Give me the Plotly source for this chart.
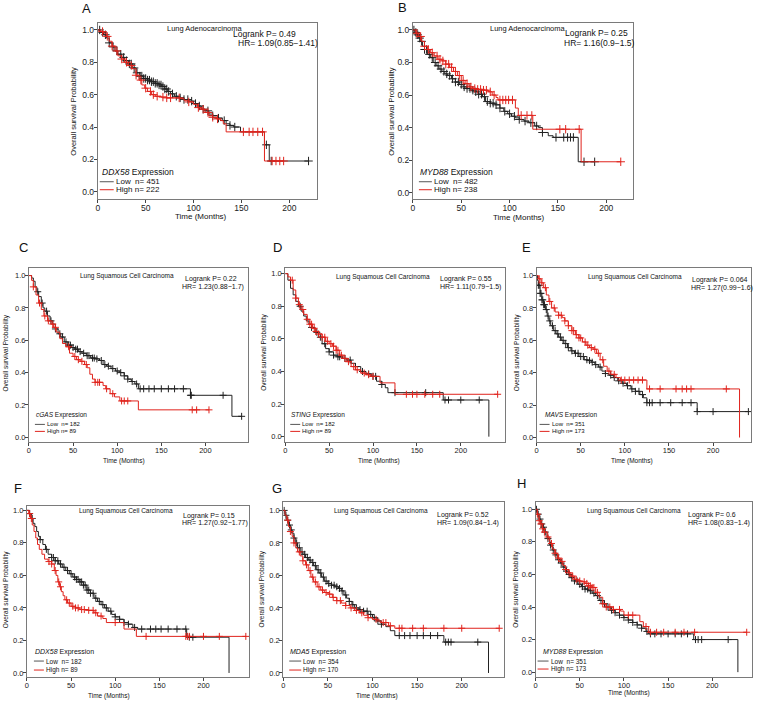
import numpy as np
import plotly.graph_objects as go

W, H = 758, 702
LOW_C = "#222222"
HIGH_C = "#e0231c"

# ---------------- data: (months, survival) steps and censor times ----------------
# A  Lung Adenocarcinoma, DDX58
a_low = [(0, 1.0), (3, 0.985), (6, 0.97), (9, 0.95), (12, 0.92), (15, 0.895), (18, 0.87), (21, 0.85),
         (25, 0.83), (28, 0.81), (32, 0.79), (36, 0.765), (40, 0.735), (44, 0.715), (48, 0.70), (52, 0.69),
         (56, 0.68), (60, 0.67), (64, 0.66), (67, 0.65), (70, 0.635), (73, 0.62), (76, 0.605), (80, 0.59),
         (85, 0.58), (90, 0.57), (95, 0.56), (100, 0.545), (104, 0.53), (108, 0.51), (112, 0.50),
         (116, 0.48), (120, 0.47), (125, 0.455), (130, 0.44), (134, 0.42), (138, 0.41), (142, 0.40),
         (149, 0.37), (174, 0.29), (179, 0.19), (220, 0.19)]
a_low_cens = [2, 5, 8, 12, 16, 20, 24, 27, 30, 33, 35, 38, 41, 44, 46, 48, 50, 52, 54, 56, 58, 60, 62, 64,
              66, 68, 70, 72, 74, 78, 82, 86, 90, 94, 98, 102, 106, 110, 115, 120, 126, 132, 138, 143,
              176, 181, 220]
a_high = [(0, 1.0), (3, 0.99), (6, 0.98), (9, 0.96), (12, 0.93), (15, 0.90), (18, 0.87), (21, 0.84),
          (25, 0.82), (28, 0.80), (32, 0.78), (36, 0.76), (40, 0.72), (43, 0.69), (46, 0.66), (49, 0.64),
          (52, 0.62), (56, 0.60), (60, 0.59), (66, 0.585), (72, 0.58), (86, 0.575), (90, 0.565),
          (95, 0.555), (100, 0.54), (104, 0.52), (108, 0.51), (112, 0.49), (116, 0.47), (120, 0.46),
          (124, 0.45), (128, 0.44), (131, 0.42), (134, 0.37), (174, 0.19), (194, 0.19)]
a_high_cens = [5, 10, 15, 20, 25, 30, 35, 40, 45, 50, 55, 58, 62, 68, 72, 76, 85, 95, 105, 110, 115, 120,
               125, 152, 158, 162, 167, 172, 182, 186, 190, 194]

# B  Lung Adenocarcinoma, MYD88
b_low = [(0, 1.0), (2, 0.985), (4, 0.97), (6, 0.95), (8, 0.93), (10, 0.90), (12, 0.88), (15, 0.85),
         (18, 0.83), (21, 0.80), (24, 0.78), (27, 0.76), (30, 0.745), (33, 0.73), (36, 0.72), (40, 0.70),
         (44, 0.68), (48, 0.665), (52, 0.65), (56, 0.64), (60, 0.63), (64, 0.62), (68, 0.605), (72, 0.59),
         (75, 0.56), (80, 0.55), (85, 0.54), (90, 0.52), (94, 0.50), (98, 0.485), (102, 0.47), (106, 0.46),
         (110, 0.45), (115, 0.44), (120, 0.43), (126, 0.41), (130, 0.40), (134, 0.37), (140, 0.35),
         (145, 0.34), (171, 0.19), (188, 0.19)]
b_low_cens = [1, 3, 5, 7, 9, 12, 14, 17, 20, 23, 26, 29, 32, 35, 38, 41, 44, 47, 50, 53, 56, 59, 62, 65,
              68, 71, 74, 77, 80, 83, 86, 90, 95, 100, 105, 110, 116, 122, 128, 134, 148, 156, 160, 163,
              166, 177, 188]
b_high = [(0, 1.0), (3, 0.98), (6, 0.96), (9, 0.93), (12, 0.90), (15, 0.88), (18, 0.86), (22, 0.84),
          (26, 0.82), (30, 0.81), (34, 0.79), (38, 0.77), (42, 0.745), (46, 0.72), (50, 0.69), (54, 0.67),
          (58, 0.65), (62, 0.64), (66, 0.635), (72, 0.63), (78, 0.62), (82, 0.60), (86, 0.585), (88, 0.57),
          (106, 0.52), (109, 0.475), (124, 0.39), (174, 0.19), (215, 0.19)]
b_high_cens = [4, 8, 12, 16, 20, 25, 28, 31, 34, 37, 40, 44, 48, 52, 56, 60, 64, 67, 70, 73, 76, 80, 84,
               90, 93, 96, 99, 103, 112, 118, 123, 152, 158, 172, 215]

# C  Lung Squamous Cell Carcinoma, cGAS
c_low = [(0, 1.0), (3, 0.985), (5, 0.965), (7, 0.93), (9, 0.90), (11, 0.87), (14, 0.83), (16, 0.80),
         (18, 0.78), (21, 0.75), (24, 0.72), (27, 0.70), (30, 0.67), (33, 0.64), (36, 0.62), (40, 0.59),
         (44, 0.57), (48, 0.555), (52, 0.545), (56, 0.53), (60, 0.52), (65, 0.505), (70, 0.49),
         (75, 0.485), (80, 0.475), (84, 0.45), (88, 0.44), (93, 0.425), (98, 0.41), (103, 0.40),
         (108, 0.38), (112, 0.36), (116, 0.345), (120, 0.33), (124, 0.30), (183, 0.26), (230, 0.13),
         (241, 0.13)]
c_low_cens = [10, 15, 20, 25, 30, 35, 38, 42, 45, 47, 50, 53, 55, 58, 62, 66, 68, 72, 74, 77, 82, 86, 90,
              95, 100, 104, 108, 112, 117, 122, 126, 130, 136, 142, 150, 158, 165, 175, 183, 184, 220, 241]
c_high = [(0, 1.0), (3, 0.97), (5, 0.93), (8, 0.88), (11, 0.83), (14, 0.79), (17, 0.75), (21, 0.72),
          (25, 0.70), (28, 0.68), (31, 0.65), (35, 0.61), (38, 0.58), (42, 0.56), (46, 0.52), (50, 0.50),
          (54, 0.48), (58, 0.47), (63, 0.45), (66, 0.43), (69, 0.39), (72, 0.36), (75, 0.34), (84, 0.32),
          (87, 0.30), (92, 0.27), (97, 0.25), (103, 0.225), (124, 0.17), (204, 0.17)]
c_high_cens = [5, 12, 18, 22, 27, 30, 45, 52, 56, 60, 65, 75, 78, 80, 88, 95, 105, 108, 112, 185, 190, 204]

# D  Lung Squamous Cell Carcinoma, STING
d_low = [(0, 1.0), (3, 0.96), (6, 0.91), (9, 0.87), (12, 0.83), (15, 0.80), (18, 0.77), (21, 0.74),
         (24, 0.71), (27, 0.69), (30, 0.67), (34, 0.64), (38, 0.61), (42, 0.57), (46, 0.54), (50, 0.52),
         (55, 0.50), (60, 0.49), (65, 0.48), (70, 0.47), (75, 0.45), (80, 0.43), (86, 0.40), (92, 0.385),
         (98, 0.37), (104, 0.34), (110, 0.32), (114, 0.30), (117, 0.27), (180, 0.225), (232, 0.0)]
d_low_cens = [17, 30, 36, 40, 45, 50, 55, 60, 62, 68, 74, 80, 88, 95, 100, 103, 110, 125, 160, 182, 186,
              200, 221]
d_high = [(0, 1.0), (3, 0.98), (6, 0.96), (9, 0.90), (12, 0.85), (15, 0.81), (18, 0.78), (21, 0.75),
          (25, 0.72), (28, 0.69), (31, 0.665), (35, 0.645), (38, 0.63), (42, 0.61), (46, 0.585), (50, 0.57),
          (54, 0.555), (58, 0.53), (62, 0.50), (66, 0.48), (70, 0.46), (75, 0.43), (80, 0.41), (86, 0.39),
          (92, 0.38), (97, 0.37), (108, 0.33), (125, 0.26), (242, 0.26)]
d_high_cens = [8, 12, 16, 20, 25, 28, 30, 33, 35, 38, 42, 45, 48, 52, 55, 58, 60, 64, 68, 72, 78, 82, 90,
               95, 100, 138, 145, 150, 159, 168, 176, 242]

# E  Lung Squamous Cell Carcinoma, MAVS
e_low = [(0, 1.0), (1, 0.97), (2, 0.94), (4, 0.89), (6, 0.85), (8, 0.82), (10, 0.79), (12, 0.75),
         (14, 0.72), (16, 0.69), (19, 0.66), (22, 0.64), (25, 0.62), (28, 0.60), (31, 0.58), (35, 0.555),
         (39, 0.535), (43, 0.52), (48, 0.50), (54, 0.48), (58, 0.475), (62, 0.465), (66, 0.45), (70, 0.435),
         (74, 0.41), (78, 0.395), (82, 0.385), (87, 0.37), (92, 0.35), (97, 0.335), (102, 0.32),
         (107, 0.30), (112, 0.285), (117, 0.265), (121, 0.245), (125, 0.215), (182, 0.16), (240, 0.16)]
e_low_cens = [2, 3, 4, 5, 6, 7, 8, 9, 11, 13, 15, 18, 21, 24, 27, 30, 33, 36, 40, 44, 47, 50, 53, 57, 60,
              63, 67, 72, 78, 84, 88, 93, 98, 103, 108, 112, 116, 120, 125, 128, 131, 140, 152, 165, 175,
              182, 200, 240]
e_high = [(0, 1.0), (2, 0.98), (5, 0.955), (8, 0.925), (11, 0.88), (14, 0.84), (17, 0.80), (21, 0.775),
          (25, 0.755), (29, 0.74), (32, 0.72), (36, 0.69), (40, 0.66), (44, 0.635), (48, 0.615), (52, 0.59),
          (56, 0.57), (60, 0.555), (64, 0.545), (68, 0.52), (72, 0.48), (76, 0.44), (80, 0.41), (84, 0.39),
          (90, 0.37), (95, 0.355), (125, 0.30), (230, 0.0)]
e_high_cens = [3, 6, 10, 15, 20, 25, 28, 32, 36, 40, 42, 45, 48, 50, 55, 58, 62, 66, 70, 75, 82, 88, 96,
               100, 105, 110, 115, 120, 128, 140, 158, 165, 170, 175, 215]

# F  Lung Squamous Cell Carcinoma, DDX58
f_low = [(0, 1.0), (3, 0.98), (5, 0.95), (7, 0.92), (9, 0.90), (11, 0.87), (13, 0.84), (15, 0.82),
         (18, 0.79), (21, 0.76), (24, 0.73), (28, 0.71), (32, 0.69), (36, 0.67), (40, 0.65), (44, 0.63),
         (48, 0.61), (52, 0.59), (56, 0.575), (60, 0.56), (64, 0.54), (68, 0.51), (72, 0.49), (76, 0.46),
         (80, 0.44), (84, 0.42), (88, 0.40), (92, 0.38), (96, 0.36), (100, 0.345), (105, 0.33),
         (110, 0.31), (115, 0.30), (120, 0.28), (125, 0.27), (181, 0.22), (229, 0.0)]
f_low_cens = [3, 6, 15, 22, 28, 30, 32, 35, 38, 42, 46, 50, 54, 56, 58, 60, 62, 64, 66, 68, 70, 72, 75,
              78, 82, 86, 90, 95, 100, 105, 110, 115, 122, 130, 140, 146, 152, 160, 170, 180, 184, 188]
f_high = [(0, 1.0), (2, 0.98), (4, 0.95), (6, 0.91), (8, 0.87), (10, 0.83), (12, 0.79), (14, 0.76),
          (17, 0.73), (20, 0.70), (24, 0.685), (28, 0.67), (31, 0.63), (33, 0.60), (35, 0.56), (37, 0.53),
          (39, 0.50), (41, 0.475), (43, 0.45), (46, 0.43), (50, 0.41), (55, 0.40), (60, 0.39), (70, 0.385),
          (76, 0.37), (80, 0.35), (86, 0.335), (90, 0.31), (110, 0.27), (124, 0.225), (248, 0.225)]
f_high_cens = [3, 5, 25, 28, 32, 36, 38, 45, 48, 52, 55, 58, 62, 65, 70, 75, 78, 84, 100, 135, 180, 182,
               184, 200, 218, 248]

# G  Lung Squamous Cell Carcinoma, MDA5
g_low = [(0, 1.0), (2, 0.97), (4, 0.94), (6, 0.91), (8, 0.88), (10, 0.86), (12, 0.83), (14, 0.80),
         (16, 0.77), (19, 0.745), (22, 0.73), (25, 0.71), (28, 0.695), (31, 0.68), (34, 0.66), (37, 0.635),
         (40, 0.615), (43, 0.59), (46, 0.565), (50, 0.55), (54, 0.54), (58, 0.53), (62, 0.52), (65, 0.505),
         (68, 0.48), (71, 0.46), (74, 0.44), (77, 0.42), (80, 0.40), (85, 0.39), (90, 0.38), (95, 0.36),
         (100, 0.34), (105, 0.32), (110, 0.30), (115, 0.285), (120, 0.26), (125, 0.23), (180, 0.19),
         (230, 0.0)]
g_low_cens = [1, 3, 5, 7, 9, 12, 15, 18, 21, 24, 27, 30, 33, 36, 39, 42, 45, 48, 51, 54, 57, 60, 63, 66,
              70, 74, 78, 82, 86, 90, 94, 98, 102, 106, 110, 130, 136, 142, 150, 157, 165, 173, 182, 185,
              188, 218]
g_high = [(0, 1.0), (2, 0.97), (4, 0.94), (6, 0.90), (8, 0.87), (10, 0.84), (12, 0.80), (14, 0.77),
          (16, 0.745), (19, 0.72), (22, 0.69), (25, 0.665), (28, 0.63), (31, 0.59), (34, 0.56), (38, 0.53),
          (42, 0.51), (46, 0.495), (50, 0.485), (55, 0.465), (60, 0.445), (65, 0.43), (70, 0.415),
          (75, 0.40), (80, 0.385), (85, 0.37), (90, 0.355), (95, 0.34), (100, 0.33), (105, 0.32),
          (110, 0.31), (118, 0.29), (125, 0.275), (242, 0.275)]
g_high_cens = [5, 8, 12, 18, 22, 26, 30, 33, 36, 40, 44, 48, 52, 56, 60, 64, 70, 76, 82, 88, 95, 104,
               112, 115, 120, 130, 133, 145, 157, 180, 200, 242]

# H  Lung Squamous Cell Carcinoma, MYD88
h_low = [(0, 1.0), (2, 0.97), (4, 0.94), (6, 0.91), (8, 0.89), (10, 0.86), (13, 0.82), (16, 0.78),
         (19, 0.75), (22, 0.72), (25, 0.69), (28, 0.67), (31, 0.645), (34, 0.62), (37, 0.60), (40, 0.58),
         (44, 0.56), (48, 0.54), (52, 0.525), (56, 0.51), (60, 0.50), (64, 0.485), (68, 0.47), (72, 0.44),
         (76, 0.42), (80, 0.40), (85, 0.38), (90, 0.365), (95, 0.35), (100, 0.335), (105, 0.32),
         (110, 0.305), (115, 0.29), (120, 0.27), (125, 0.25), (128, 0.235), (179, 0.20), (229, 0.0)]
h_low_cens = [1, 3, 5, 7, 9, 11, 14, 17, 20, 23, 26, 29, 32, 35, 38, 41, 44, 47, 50, 53, 56, 59, 62, 66,
              70, 74, 78, 82, 86, 90, 95, 100, 105, 110, 115, 120, 126, 130, 135, 142, 150, 158, 165, 172,
              181, 184, 188, 218]
h_high = [(0, 1.0), (2, 0.97), (4, 0.93), (6, 0.91), (8, 0.88), (10, 0.86), (13, 0.83), (16, 0.79),
          (19, 0.755), (22, 0.73), (25, 0.70), (28, 0.68), (31, 0.655), (34, 0.63), (37, 0.61), (40, 0.59),
          (44, 0.57), (48, 0.56), (52, 0.555), (56, 0.545), (60, 0.53), (64, 0.52), (68, 0.49), (72, 0.46),
          (76, 0.42), (80, 0.40), (88, 0.385), (96, 0.375), (100, 0.35), (118, 0.31), (122, 0.28),
          (128, 0.245), (239, 0.245)]
h_high_cens = [2, 4, 6, 8, 10, 14, 18, 22, 26, 30, 34, 38, 42, 46, 50, 55, 58, 60, 62, 64, 66, 70, 76, 80,
               84, 88, 95, 105, 110, 125, 130, 137, 145, 158, 168, 180, 239]

panels = [
    dict(tag="A", title="Lung Adenocarcinoma", p="Logrank P= 0.49", hr="HR= 1.09(0.85\u22121.41)",
         gene="DDX58", n_low=451, n_high=222, low=a_low, low_c=a_low_cens, high=a_high, high_c=a_high_cens),
    dict(tag="B", title="Lung Adenocarcinoma", p="Logrank P= 0.25", hr="HR= 1.16(0.9\u22121.5)",
         gene="MYD88", n_low=482, n_high=238, low=b_low, low_c=b_low_cens, high=b_high, high_c=b_high_cens),
    dict(tag="C", title="Lung Squamous Cell Carcinoma", p="Logrank P= 0.22", hr="HR= 1.23(0.88\u22121.7)",
         gene="cGAS", n_low=182, n_high=89, low=c_low, low_c=c_low_cens, high=c_high, high_c=c_high_cens),
    dict(tag="D", title="Lung Squamous Cell Carcinoma", p="Logrank P= 0.55", hr="HR= 1.11(0.79\u22121.5)",
         gene="STING", n_low=182, n_high=89, low=d_low, low_c=d_low_cens, high=d_high, high_c=d_high_cens),
    dict(tag="E", title="Lung Squamous Cell Carcinoma", p="Logrank P= 0.064", hr="HR= 1.27(0.99\u22121.6)",
         gene="MAVS", n_low=351, n_high=173, low=e_low, low_c=e_low_cens, high=e_high, high_c=e_high_cens),
    dict(tag="F", title="Lung Squamous Cell Carcinoma", p="Logrank P= 0.15", hr="HR= 1.27(0.92\u22121.77)",
         gene="DDX58", n_low=182, n_high=89, low=f_low, low_c=f_low_cens, high=f_high, high_c=f_high_cens),
    dict(tag="G", title="Lung Squamous Cell Carcinoma", p="Logrank P= 0.52", hr="HR= 1.09(0.84\u22121.4)",
         gene="MDA5", n_low=354, n_high=170, low=g_low, low_c=g_low_cens, high=g_high, high_c=g_high_cens),
    dict(tag="H", title="Lung Squamous Cell Carcinoma", p="Logrank P= 0.6", hr="HR= 1.08(0.83\u22121.4)",
         gene="MYD88", n_low=351, n_high=173, low=h_low, low_c=h_low_cens, high=h_high, high_c=h_high_cens),
]

# ---------------- layout (pixel boxes and text anchors) ----------------
# box: left, top, right, bottom ; xr/yr: axis ranges ; leg: header x,y, line x0,x1, low y, high y
geo = [
    dict(box=(96, 23, 316, 199), xr=229, yr=(-0.043, 1.043), fs=8.5, lf=8, letter=(85, 9),
         ttl=(203, 29), pv=(231, 34), hrp=(236, 43), leg=(99, 172, 98, 112, 182, 190),
         ytl=(72, 111), xtl=(200, 217)),
    dict(box=(412, 23, 633, 199), xr=228, yr=(-0.037, 1.043), fs=8.5, lf=8, letter=(402, 8),
         ttl=(527, 29), pv=(563, 33), hrp=(562, 43), leg=(418, 172, 418, 431, 182, 190),
         ytl=(391, 111), xtl=(518, 218)),
    dict(box=(27, 268, 247, 443), xr=248.6, yr=(-0.031, 1.049), fs=7.5, lf=6, letter=(22, 248),
         ttl=(125, 276), pv=(182, 279), hrp=(179, 287), leg=(33, 416, 33, 43, 425, 432),
         ytl=(5, 353), xtl=(122, 462)),
    dict(box=(284, 268, 504, 443), xr=250, yr=(-0.035, 1.037), fs=7.5, lf=6, letter=(276, 248),
         ttl=(382, 277), pv=(438, 279), hrp=(438, 287), leg=(289, 416, 289, 299, 425, 432),
         ytl=(263, 353), xtl=(378, 462)),
    dict(box=(536, 268, 751, 443), xr=243, yr=(-0.03, 1.049), fs=7.5, lf=6, letter=(526, 248),
         ttl=(635, 277), pv=(691, 280), hrp=(690, 288), leg=(543, 416, 539, 549, 425, 432),
         ytl=(517, 353), xtl=(632, 462)),
    dict(box=(25, 507, 248, 678), xr=252, yr=(-0.025, 1.025), fs=7.5, lf=6.5, letter=(16, 489),
         ttl=(124, 512), pv=(180, 517), hrp=(179, 524), leg=(32, 653, 32, 42, 662, 671),
         ytl=(4, 590), xtl=(107, 697)),
    dict(box=(282, 503, 503, 678), xr=247, yr=(-0.025, 1.05), fs=7.5, lf=6.5, letter=(276, 489),
         ttl=(380, 512), pv=(435, 516), hrp=(435, 524), leg=(288, 653, 288, 300, 662, 671),
         ytl=(261, 590), xtl=(376, 697)),
    dict(box=(535, 503, 752, 678), xr=245, yr=(-0.03, 1.043), fs=7.5, lf=6.5, letter=(521, 484),
         ttl=(634, 512), pv=(687, 516), hrp=(687, 524), leg=(541, 653, 537, 548, 662, 670),
         ytl=(516, 590), xtl=(629, 694)),
]


def px(x):
    return x / W


def py(y):
    return 1 - y / H


def censor_levels(steps, cens):
    t = np.array([s[0] for s in steps])
    s = np.array([s[1] for s in steps])
    idx = np.searchsorted(t, np.array(cens), side="right") - 1
    return s[np.clip(idx, 0, len(s) - 1)]


FONT = "Arial, Liberation Sans, sans-serif"
fig = go.Figure()
annotations = []
shapes = []
layout_axes = {}

for i, (p, g) in enumerate(zip(panels, geo)):
    sfx = "" if i == 0 else str(i + 1)
    xa, ya = "x" + sfx, "y" + sfx
    l, t, r, b = g["box"]
    big = g["fs"] > 8
    for key, col in (("low", LOW_C), ("high", HIGH_C)):
        steps = p[key]
        fig.add_trace(go.Scatter(
            x=[s[0] for s in steps], y=[s[1] for s in steps], mode="lines",
            line=dict(color=col, width=1, shape="hv"), xaxis=xa, yaxis=ya, showlegend=False,
            hoverinfo="skip"))
        cens = p[key + "_c"]
        fig.add_trace(go.Scatter(
            x=cens, y=censor_levels(steps, cens), mode="markers",
            marker=dict(symbol="cross-thin", size=6 if big else 5, line=dict(color=col, width=1)),
            xaxis=xa, yaxis=ya, showlegend=False, hoverinfo="skip"))

    axis_common = dict(showline=True, mirror=True, linecolor="#7a7a7a", linewidth=1, ticks="outside",
                       ticklen=3, tickwidth=1, tickcolor="#444", showgrid=False, zeroline=False,
                       ticklabelstandoff=-2,
                       tickfont=dict(size=g["fs"], color="#222", family=FONT))
    layout_axes["xaxis" + sfx] = dict(axis_common, domain=[px(l), px(r)], range=[0, g["xr"]],
                                      tickvals=[0, 50, 100, 150, 200], anchor=ya)
    layout_axes["yaxis" + sfx] = dict(axis_common, domain=[py(b), py(t)], range=list(g["yr"]),
                                      tickvals=[0, 0.2, 0.4, 0.6, 0.8, 1.0], tickformat=".1f", anchor=xa)

    def note(x, y, text, size, xanchor="left", angle=0):
        annotations.append(dict(x=px(x), y=py(y), xref="paper", yref="paper", text=text, showarrow=False,
                                xanchor=xanchor, yanchor="middle", textangle=angle, borderpad=0,
                                font=dict(size=size, color="#111", family=FONT)))

    ts = 7.5 if big else 6.5
    ps = 8.5 if big else 7
    lf = g["lf"]
    note(g["letter"][0], g["letter"][1], p["tag"], 13, "center")
    note(g["ttl"][0], g["ttl"][1], p["title"], ts, "center")
    note(g["pv"][0], g["pv"][1], p["p"], ps)
    note(g["hrp"][0], g["hrp"][1], p["hr"], ps)
    lx, ly, l0, l1, yl, yh = g["leg"]
    note(lx, ly, "<i>%s</i> Expression" % p["gene"], lf + 0.5)
    note(l1 + 1, yl, "Low  n= %d" % p["n_low"], lf)
    note(l1 + 1, yh, "High n= %d" % p["n_high"], lf)
    for yy, col in ((yl, "#555"), (yh, HIGH_C)):
        shapes.append(dict(type="line", xref="paper", yref="paper", x0=px(l0), x1=px(l1),
                           y0=py(yy), y1=py(yy), line=dict(color=col, width=1)))
    note(g["ytl"][0], g["ytl"][1], "Overall survival Probability", ts, "center", -90)
    note(g["xtl"][0], g["xtl"][1], "Time (Months)", ps - 0.5, "center")

fig.update_layout(width=W, height=H, margin=dict(l=0, r=0, t=0, b=0), plot_bgcolor="white",
                  paper_bgcolor="white", annotations=annotations, shapes=shapes,
                  font=dict(family=FONT), **layout_axes)
fig.write_html("out.html", config={"displayModeBar": False},
               post_script="document.body.style.margin='0';")
